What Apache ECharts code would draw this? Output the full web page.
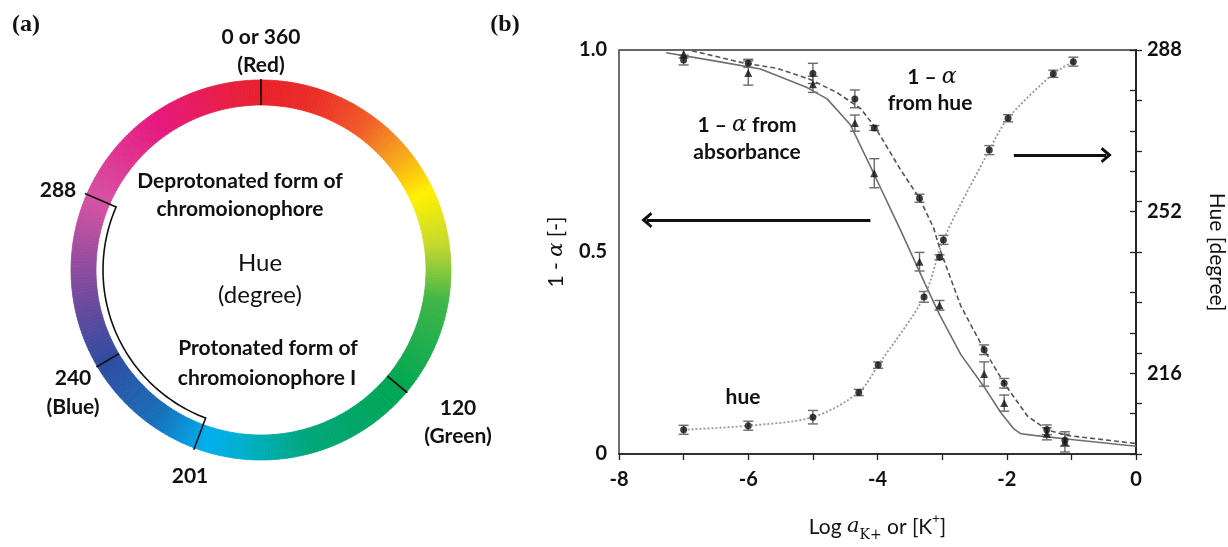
<!DOCTYPE html>
<html>
<head>
<meta charset="utf-8">
<script src="https://cdn.jsdelivr.net/npm/echarts/dist/echarts.min.js"></script>
<style>
  html, body { margin: 0; padding: 0; background: #fff; }
  #main { width: 1228px; height: 547px; }
</style>
</head>
<body>
<div id="main"></div>
<script>
// ---------- panel (b): data ----------
// 1 - alpha points (absorbance = triangles, hue = dots), x = log a(K+)
const alphaX      = [-7, -6, -5, -4.35, -4.05, -3.35, -3.04, -2.35, -2.04, -1.38, -1.1];
const alphaAbs    = [0.99, 0.943, 0.915, 0.819, 0.695, 0.476, 0.368, 0.198, 0.126, 0.05, 0.03];
const alphaAbsErr = [0.01, 0.03, 0.02, 0.02, 0.036, 0.023, 0.012, 0.03, 0.02, 0.015, 0.025];
const alphaHue    = [0.975, 0.967, 0.942, 0.879, 0.807, 0.633, 0.487, 0.258, 0.175, 0.06, 0.034];
const alphaHueErr = [0.012, 0.01, 0.025, 0.022, 0.006, 0.01, 0.006, 0.012, 0.012, 0.012, 0.015];

// hue points (right axis), x = log [K+]
const hueX   = [-7, -6, -5, -4.29, -3.99, -3.28, -2.98, -2.27, -1.98, -1.28, -0.97];
const hueVal = [203.4, 204.3, 206.2, 211.7, 217.8, 233.0, 245.7, 265.7, 272.8, 282.7, 285.4];
const hueErr = [1, 1, 1.5, 0.7, 0.7, 1.2, 1, 1, 0.8, 0.8, 1];

// fitted curves
const absFitX = [-7.27, -6.59, -5.81, -5.09, -4.78, -4.42, -4.06, -3.75, -3.64, -3.26, -3.04, -2.71, -2.35, -2.09, -1.89, -1.78, -1.58, -1.0, 0];
const absFitY = [0.993, 0.975, 0.953, 0.907, 0.879, 0.815, 0.695, 0.59, 0.553, 0.42, 0.345, 0.246, 0.166, 0.102, 0.062, 0.05, 0.046, 0.036, 0.019];
const hueFitX = [-6.87, -6.05, -5.56, -5.04, -4.63, -4.26, -4.03, -3.64, -3.35, -3.13, -3.03, -2.71, -2.35, -2.04, -1.68, -1.38, -1.07, 0];
const hueFitY = [0.998, 0.967, 0.955, 0.927, 0.895, 0.855, 0.807, 0.703, 0.633, 0.559, 0.505, 0.366, 0.258, 0.175, 0.094, 0.06, 0.046, 0.026];

// tick labels
const xLabelVals = [-8, -6, -4, -2, 0];
const leftLabelVals = [0, 0.5, 1];
const leftLabelText = ['0', '0.5', '1.0'];
const rightLabelVals = [216, 252, 288];

// arrows (left one points to left axis, right one to right axis)
const arrowLeft  = [[-4.11, 0.579], [-7.57, 0.579]];
const arrowRight = [[-1.89, 0.74], [-0.46, 0.74]];

// ---------- panel (a): hue wheel ----------
const wheelStops  = [0, 18, 35, 50, 65, 82, 100, 130, 165, 185, 198, 215, 240, 265, 293, 325, 345, 360];
const wheelColors = ['#e8202a', '#eb2f28', '#f05a28', '#f7a21b', '#fff200', '#c5d92d', '#3fb549', '#00a651',
                     '#00a67a', '#00b0c8', '#00aeef', '#1670b9', '#2f4ba0', '#7d4a9d', '#d652a2', '#e6177f',
                     '#e81d4f', '#e8202a'];
const wheelTickAngles = [0, 130, 239.5];
const bracketAngles = [200.5, 293.5];

const ringInner = 165, ringOuter = 190, bracketR = 158;

const BOLD = 'bold 21px Lato';
const ALPHA = 'italic 22px "DejaVu Serif"';
const tickFont = { fontFamily: 'Lato', fontWeight: 'bold', fontSize: 20, color: '#111' };

function hex2rgb(h) {
  return [parseInt(h.slice(1, 3), 16), parseInt(h.slice(3, 5), 16), parseInt(h.slice(5, 7), 16)];
}
function wheelColor(h) {
  for (let i = 0; i < wheelStops.length - 1; i++) {
    if (h >= wheelStops[i] && h <= wheelStops[i + 1]) {
      const t = (h - wheelStops[i]) / (wheelStops[i + 1] - wheelStops[i]);
      const a = hex2rgb(wheelColors[i]), b = hex2rgb(wheelColors[i + 1]);
      const c = a.map((v, k) => Math.round(v + (b[k] - v) * t));
      return 'rgb(' + c.join(',') + ')';
    }
  }
  return wheelColors[0];
}

// one slice per degree of the wheel
const wheelSlices = [];
for (let d = 0; d < 360; d++) {
  const c = wheelColor(d + 0.5);
  wheelSlices.push({ value: 1, itemStyle: { color: c, borderColor: c, borderWidth: 0.8 } });
}

function errorBarItem(params, api) {
  const x = api.value(0);
  const lo = api.coord([x, api.value(1)]);
  const hi = api.coord([x, api.value(2)]);
  const w = 5;
  const st = { stroke: '#6a6a6a', lineWidth: 1.4 };
  return {
    type: 'group',
    children: [
      { type: 'line', shape: { x1: lo[0], y1: lo[1], x2: hi[0], y2: hi[1] }, style: st },
      { type: 'line', shape: { x1: lo[0] - w, y1: lo[1], x2: lo[0] + w, y2: lo[1] }, style: st },
      { type: 'line', shape: { x1: hi[0] - w, y1: hi[1], x2: hi[0] + w, y2: hi[1] }, style: st }
    ]
  };
}

const zip = (xs, ys) => xs.map((x, i) => [x, ys[i]]);
const bars = (xs, ys, es) => xs.map((x, i) => [x, ys[i] - es[i], ys[i] + es[i]]);

function txt(x, y, text, font) {
  return {
    type: 'text', x: x, y: y, silent: true, z: 10,
    style: { text: text, font: font, fill: '#111', align: 'center', verticalAlign: 'middle' }
  };
}
function alphaTxt(x, y, pre, post) {
  return {
    type: 'text', x: x, y: y, silent: true, z: 10,
    style: {
      text: pre + '{i|α}' + post, font: BOLD, fill: '#111', align: 'center', verticalAlign: 'middle',
      rich: { i: { font: ALPHA, fill: '#111' } }
    }
  };
}

const chevron = 'path://M0,12 L10,0 L20,12 L17,14 L10,6 L3,14 Z';

const chart = echarts.init(document.getElementById('main'));
chart.setOption({
  animation: false,
  backgroundColor: '#fff',
  grid: { left: 619, top: 50, width: 517, height: 416, show: true, borderColor: '#333', borderWidth: 1.4 },
  xAxis: {
    type: 'value', min: -8, max: 0, interval: 1,
    axisLine: { onZero: false, lineStyle: { color: '#222', width: 1.5 } },
    axisTick: { length: 6, lineStyle: { color: '#222', width: 1.3 } },
    splitLine: { show: false },
    axisLabel: Object.assign({ formatter: v => (xLabelVals.includes(v) ? String(v) : ''), margin: 16 }, tickFont),
    name: 'Log {i|a}{s|K+} or [K{p|+}]',
    nameLocation: 'middle', nameGap: 58,
    nameTextStyle: {
      fontFamily: 'Lato', fontSize: 21, color: '#111', lineHeight: 30,
      rich: {
        i: { fontFamily: 'DejaVu Serif', fontStyle: 'italic', fontSize: 21, color: '#111', lineHeight: 30 },
        s: { fontFamily: 'DejaVu Serif', fontSize: 14, color: '#111', verticalAlign: 'bottom', lineHeight: 30 },
        p: { fontFamily: 'Lato', fontSize: 13, color: '#111', verticalAlign: 'top', lineHeight: 30 }
      }
    }
  },
  yAxis: [
    {
      type: 'value', min: 0, max: 1, interval: 0.125, position: 'left',
      axisLine: { lineStyle: { color: '#222', width: 1.5 } },
      axisTick: { inside: true, length: 6, lineStyle: { color: '#222', width: 1.3 } },
      splitLine: { show: false },
      axisLabel: Object.assign({
        formatter: v => { const i = leftLabelVals.indexOf(v); return i < 0 ? '' : leftLabelText[i]; },
        margin: 12
      }, tickFont),
      name: '1 - {i|α} [-]', nameLocation: 'middle', nameGap: 52, nameRotate: 90,
      nameTextStyle: {
        fontFamily: 'Lato', fontSize: 21, color: '#111',
        rich: { i: { fontFamily: 'DejaVu Serif', fontStyle: 'italic', fontSize: 21, color: '#111' } }
      }
    },
    {
      type: 'value', min: 198, max: 288, interval: 9, position: 'right',
      axisLine: { lineStyle: { color: '#222', width: 1.5 } },
      axisTick: { inside: true, length: 6, lineStyle: { color: '#222', width: 1.3 } },
      splitLine: { show: false },
      axisLabel: Object.assign({ formatter: v => (rightLabelVals.includes(v) ? String(v) : ''), margin: 11 }, tickFont),
      name: 'Hue [degree]', nameLocation: 'middle', nameGap: 70, nameRotate: -90,
      nameTextStyle: { fontFamily: 'Lato', fontSize: 21, color: '#111' }
    }
  ],
  polar: { center: [261, 270], radius: ringOuter },
  angleAxis: { type: 'value', min: 0, max: 360, startAngle: 90, clockwise: true, show: false },
  radiusAxis: { type: 'value', min: 0, max: ringOuter, show: false },
  series: [
    {
      type: 'pie', center: [261, 270], radius: [ringInner, ringOuter], startAngle: 90, clockwise: true,
      silent: true, label: { show: false }, labelLine: { show: false }, emphasis: { disabled: true },
      data: wheelSlices, z: 1
    },
    {
      type: 'custom', coordinateSystem: 'polar', silent: true, z: 6,
      data: wheelTickAngles.map(a => [ringOuter, a]),
      renderItem: (params, api) => {
        const a = api.value(1);
        const p0 = api.coord([ringInner, a]);
        const p1 = api.coord([ringOuter + 1, a]);
        return { type: 'line', shape: { x1: p0[0], y1: p0[1], x2: p1[0], y2: p1[1] },
                 style: { stroke: '#111', lineWidth: 1.7 } };
      }
    },
    {
      type: 'custom', coordinateSystem: 'polar', silent: true, z: 6,
      data: [[bracketR, bracketAngles[0], bracketAngles[1]]],
      renderItem: (params, api) => {
        const r = api.value(0), a0 = api.value(1), a1 = api.value(2);
        const pts = [api.coord([ringOuter + 2, a1])];
        for (let a = a1; a > a0; a -= 1) pts.push(api.coord([r, a]));
        pts.push(api.coord([r, a0]));
        pts.push(api.coord([ringOuter + 2, a0]));
        return { type: 'polyline', shape: { points: pts },
                 style: { stroke: '#111', lineWidth: 1.6, fill: null } };
      }
    },
    {
      name: 'abs fit', type: 'line', data: zip(absFitX, absFitY), showSymbol: false, silent: true,
      lineStyle: { color: '#6f6f6f', width: 1.6 },
      markLine: {
        silent: true, symbol: ['none', chevron], symbolSize: [16, 11],
        label: { show: false }, lineStyle: { type: 'solid', color: '#111', width: 3 },
        data: [
          [{ coord: arrowLeft[0] }, { coord: arrowLeft[1] }],
          [{ coord: arrowRight[0] }, { coord: arrowRight[1] }]
        ]
      }
    },
    {
      name: 'hue fit', type: 'line', data: zip(hueFitX, hueFitY), showSymbol: false, silent: true,
      lineStyle: { color: '#555', width: 1.6, type: [5, 3] }
    },
    {
      name: 'hue', type: 'line', yAxisIndex: 1, data: zip(hueX, hueVal), smooth: 0.3, silent: true,
      symbol: 'none', lineStyle: { color: '#999', width: 1.8, type: [2, 2] }
    },
    { type: 'custom', renderItem: errorBarItem, data: bars(alphaX, alphaAbs, alphaAbsErr), silent: true, z: 3 },
    { type: 'custom', renderItem: errorBarItem, data: bars(alphaX, alphaHue, alphaHueErr), silent: true, z: 3 },
    { type: 'custom', yAxisIndex: 1, renderItem: errorBarItem, data: bars(hueX, hueVal, hueErr), silent: true, z: 3 },
    {
      type: 'scatter', data: zip(alphaX, alphaAbs), symbol: 'triangle', symbolSize: 8,
      itemStyle: { color: '#111' }, silent: true, z: 4
    },
    {
      type: 'scatter', data: zip(alphaX, alphaHue), symbol: 'circle', symbolSize: 7,
      itemStyle: { color: '#111' }, silent: true, z: 4
    },
    {
      type: 'scatter', yAxisIndex: 1, data: zip(hueX, hueVal), symbol: 'circle', symbolSize: 7,
      itemStyle: { color: '#111' }, silent: true, z: 4
    }
  ],
  graphic: [
    txt(26, 25, '(a)', 'bold 24px "Liberation Serif"'),
    txt(505, 25, '(b)', 'bold 24px "Liberation Serif"'),
    txt(261, 37, '0 or 360', BOLD),
    txt(261, 65, '(Red)', BOLD),
    txt(58, 190, '288', BOLD),
    txt(240, 181, 'Deprotonated form of', BOLD),
    txt(240, 209, 'chromoionophore', BOLD),
    txt(260, 263, 'Hue', '24px Lato'),
    txt(260, 295, '(degree)', '24px Lato'),
    txt(268, 348, 'Protonated form of', BOLD),
    txt(267, 378, 'chromoionophore I', BOLD),
    txt(73, 378, '240', BOLD),
    txt(73, 407, '(Blue)', BOLD),
    txt(190, 476, '201', BOLD),
    txt(458, 408, '120', BOLD),
    txt(458, 436, '(Green)', BOLD),
    alphaTxt(747, 125, '1 – ', ' from'),
    txt(747, 152, 'absorbance', BOLD),
    alphaTxt(932, 77, '1 – ', ''),
    txt(930, 103, 'from hue', BOLD),
    txt(743, 397, 'hue', BOLD)
  ]
});
</script>
</body>
</html>
